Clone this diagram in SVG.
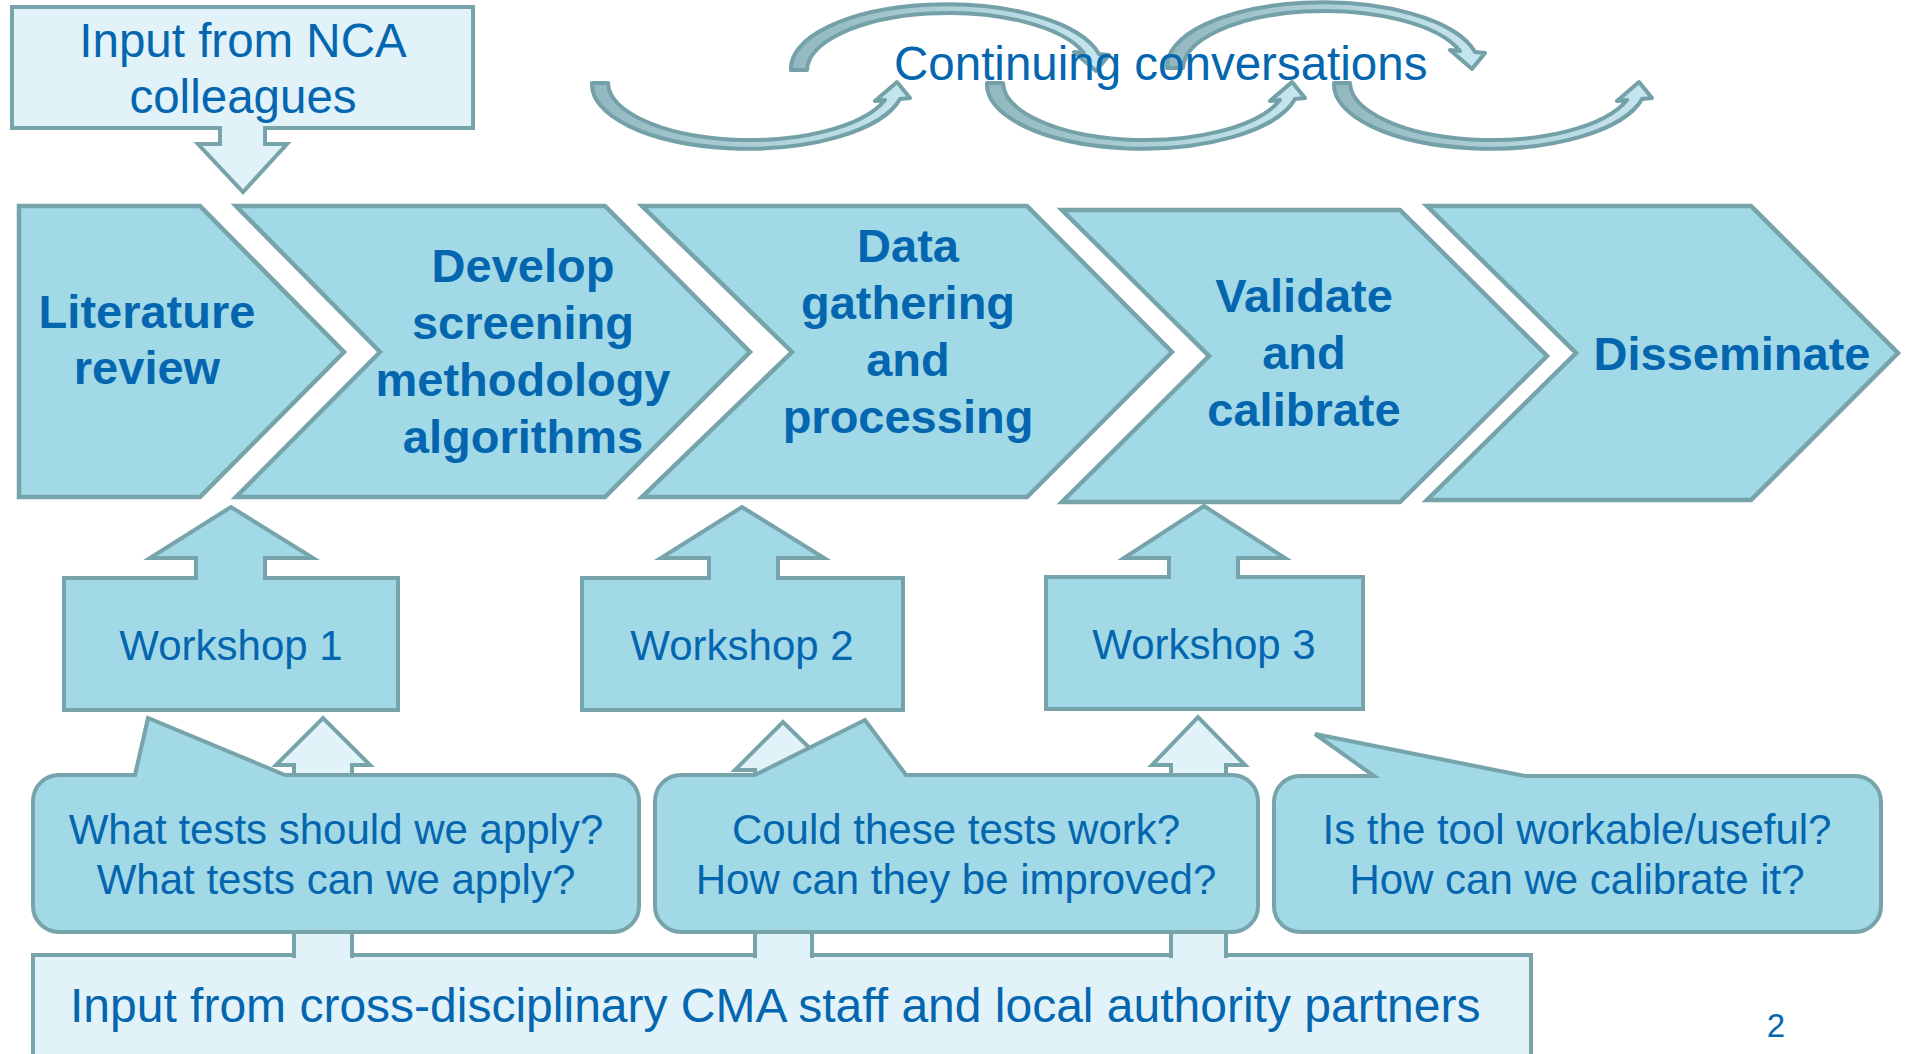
<svg xmlns="http://www.w3.org/2000/svg" xmlns:xlink="http://www.w3.org/1999/xlink" width="1905" height="1054" viewBox="0 0 1905 1054">
<defs>
<style>
.ch{fill:#A2D9E7;stroke:#77A3AB;stroke-width:4.5;stroke-linejoin:miter}
.bx{fill:#A2D9E7;stroke:#77A3AB;stroke-width:4;stroke-linejoin:miter}
.lt{fill:#E1F2F9;stroke:#77A3AB;stroke-width:4;stroke-linejoin:miter}
.t{font-family:"Liberation Sans",Arial,sans-serif;fill:#0566B0}
.tb{font-weight:bold;font-size:47px;text-anchor:middle}
.tm{font-size:42px;text-anchor:middle}
.tl{font-size:47.5px}
.cb{fill:url(#cg);stroke:#74A0A8;stroke-width:4;stroke-linejoin:round}
</style>
<linearGradient id="cg" x1="0" y1="0" x2="1" y2="0">
<stop offset="0" stop-color="#93B7BE"/>
<stop offset="1" stop-color="#C6E7F0"/>
</linearGradient>
<path id="carc" class="cb" d="M0,0 A156,64 0 0 0 308,16 L318,15 L305,-1 L283,18 L293,17 A142,58 0 0 1 16,0 Z"/>
</defs>
<rect width="1905" height="1054" fill="#FFFFFF"/>

<g id="conversations">
<use xlink:href="#carc" transform="translate(592,83)"/>
<use xlink:href="#carc" transform="translate(987,83)"/>
<use xlink:href="#carc" transform="translate(1334,83)"/>
<use xlink:href="#carc" transform="translate(791,70) scale(1,-1)"/>
<use xlink:href="#carc" transform="translate(1167,68) scale(1,-1)"/>
<text class="t tl" x="894" y="80">Continuing conversations</text>
</g>

<g id="nca">
<path class="lt" d="M12,7 L473,7 L473,128 L265,128 L265,144 L287,144 L243,192 L198,144 L220,144 L220,128 L12,128 Z"/>
<text class="t tl" x="243" y="57" text-anchor="middle">Input from NCA</text>
<text class="t tl" x="243" y="113" text-anchor="middle">colleagues</text>
</g>

<g id="literature">
<polygon class="ch" points="19,206 200,206 344,352 200,497 19,497"/>
<text class="t tb" x="147" y="328">Literature</text>
<text class="t tb" x="147" y="384">review</text>
</g>
<g id="develop">
<polygon class="ch" points="236,206 605,206 750,352 605,497 236,497 380,352"/>
<text class="t tb" x="523" y="282">Develop</text>
<text class="t tb" x="523" y="339">screening</text>
<text class="t tb" x="523" y="396">methodology</text>
<text class="t tb" x="523" y="453">algorithms</text>
</g>
<g id="data">
<polygon class="ch" points="642,206 1027,206 1172,352 1027,497 642,497 792,352"/>
<text class="t tb" x="908" y="262">Data</text>
<text class="t tb" x="908" y="319">gathering</text>
<text class="t tb" x="908" y="376">and</text>
<text class="t tb" x="908" y="433">processing</text>
</g>
<g id="validate">
<polygon class="ch" points="1062,210 1400,210 1547,356 1400,502 1062,502 1209,356"/>
<text class="t tb" x="1304" y="312">Validate</text>
<text class="t tb" x="1304" y="369">and</text>
<text class="t tb" x="1304" y="426">calibrate</text>
</g>
<g id="disseminate">
<polygon class="ch" points="1427,206 1751,206 1898,353 1751,500 1427,500 1576,353"/>
<text class="t tb" x="1732" y="370">Disseminate</text>
</g>

<g id="workshop1">
<path class="bx" d="M64,578 L196,578 L196,558 L150,558 L231,507 L313,558 L265,558 L265,578 L398,578 L398,710 L64,710 Z"/>
<text class="t tm" x="231" y="660">Workshop 1</text>
</g>
<g id="workshop2">
<path class="bx" d="M582,578 L709,578 L709,558 L661,558 L742,507 L824,558 L778,558 L778,578 L903,578 L903,710 L582,710 Z"/>
<text class="t tm" x="742" y="660">Workshop 2</text>
</g>
<g id="workshop3">
<path class="bx" d="M1046,577 L1169,577 L1169,558 L1124,558 L1204,506 L1285,558 L1238,558 L1238,577 L1363,577 L1363,709 L1046,709 Z"/>
<text class="t tm" x="1204" y="659">Workshop 3</text>
</g>

<g id="partners">
<rect class="lt" x="33" y="955" width="1498" height="120"/>
<text class="t" x="70" y="1022" font-size="48">Input from cross-disciplinary CMA staff and local authority partners</text>
</g>

<g id="connectors">
<path class="lt" d="M294,958 L294,765 L276,765 L323,718 L370,765 L352,765 L352,958"/>
<path class="lt" d="M755,958 L755,770 L735,770 L783,722 L832,770 L812,770 L812,958"/>
<path class="lt" d="M1171,958 L1171,765 L1152,765 L1198,717 L1245,765 L1226,765 L1226,958"/>
</g>

<g id="callout1">
<path class="bx" d="M59,775 L135,775 L148,718 L285,775 L613,775 A26,26 0 0 1 639,801 L639,906 A26,26 0 0 1 613,932 L59,932 A26,26 0 0 1 33,906 L33,801 A26,26 0 0 1 59,775 Z"/>
<text class="t tm" x="336" y="844">What tests should we apply?</text>
<text class="t tm" x="336" y="894">What tests can we apply?</text>
</g>
<g id="callout2">
<path class="bx" d="M681,775 L755,775 L865,720 L906,775 L1232,775 A26,26 0 0 1 1258,801 L1258,906 A26,26 0 0 1 1232,932 L681,932 A26,26 0 0 1 655,906 L655,801 A26,26 0 0 1 681,775 Z"/>
<text class="t tm" x="956" y="844">Could these tests work?</text>
<text class="t tm" x="956" y="894">How can they be improved?</text>
</g>
<g id="callout3">
<path class="bx" d="M1300,776 L1374,776 L1315,734 L1525,776 L1855,776 A26,26 0 0 1 1881,802 L1881,906 A26,26 0 0 1 1855,932 L1300,932 A26,26 0 0 1 1274,906 L1274,802 A26,26 0 0 1 1300,776 Z"/>
<text class="t tm" x="1577" y="844">Is the tool workable/useful?</text>
<text class="t tm" x="1577" y="894">How can we calibrate it?</text>
</g>

<text id="page" class="t" x="1776" y="1037" font-size="33" text-anchor="middle">2</text>
</svg>
